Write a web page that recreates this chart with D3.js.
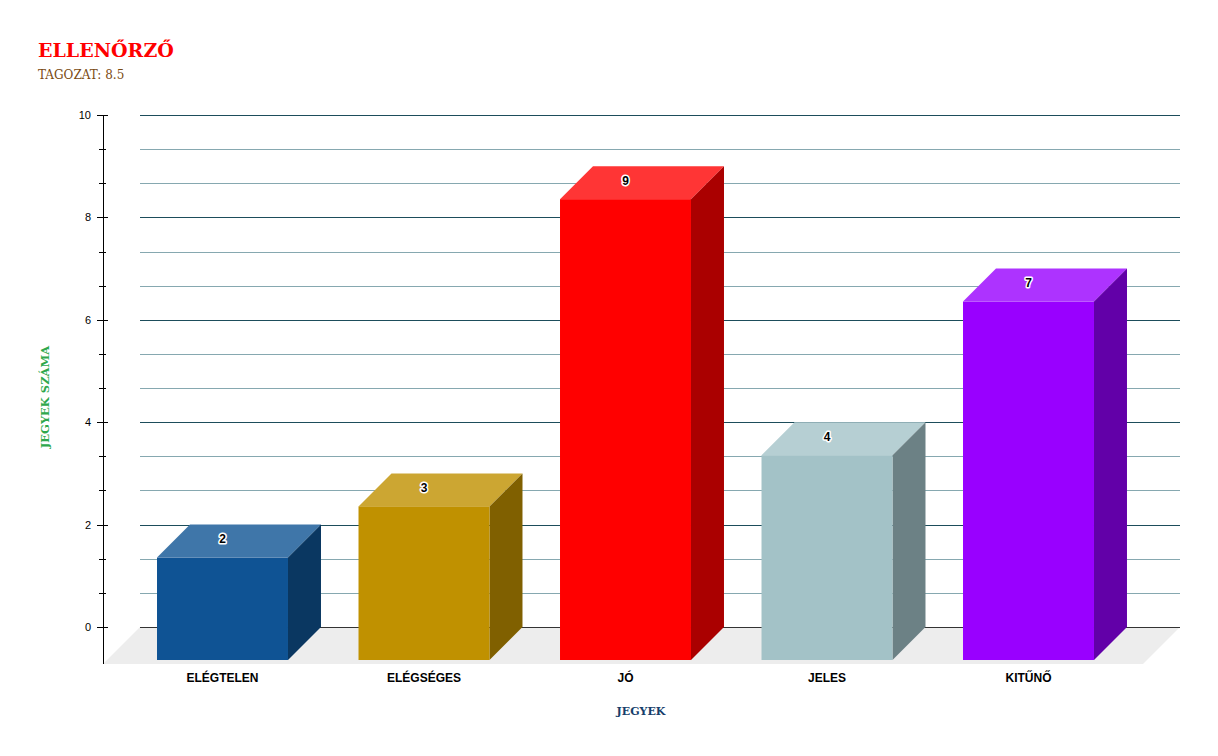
<!DOCTYPE html>
<html>
<head>
<meta charset="utf-8">
<script src="https://cdn.jsdelivr.net/npm/d3@7.9.0/dist/d3.min.js"></script>
<style>
  body { margin: 0; background: #fff; }
  svg { display: block; }
</style>
</head>
<body>
<svg id="chart" width="1218" height="756"></svg>
<script>
// chart data
const categories = ['ELÉGTELEN', 'ELÉGSÉGES', 'JÓ', 'JELES', 'KITŰNŐ'];
const counts = [2, 3, 9, 4, 7];
const frontColors = ['#0f5394', '#c09100', '#ff0000', '#a3c2c7', '#9900ff'];
const topColors = ['#3f76a9', '#cca632', '#ff3535', '#b6cfd3', '#ad33ff'];
const sideColors = ['#0a3761', '#806000', '#aa0000', '#6c8185', '#6200a8'];
const yTicks = [0, 2, 4, 6, 8, 10];

const svg = d3.select('#chart');
const depth = 33;      // 3d offset of bars
const floorDepth = 37; // 3d offset of floor

const y = d3.scaleLinear().domain([0, 10]).range([627, 115]);
const x = d3.scaleBand()
    .domain(categories)
    .range([121.75, 1129.25])
    .paddingInner(0.35)
    .paddingOuter(0.175);

// Titles
svg.append('text')
    .attr('x', 38).attr('y', 57)
    .attr('font-family', 'DejaVu Serif, serif')
    .attr('font-weight', 'bold')
    .attr('font-size', 19)
    .attr('fill', '#ff0000')
    .text('ELLENŐRZŐ');

svg.append('text')
    .attr('x', 38).attr('y', 79)
    .attr('font-family', 'DejaVu Serif, serif')
    .attr('font-size', 12)
    .attr('fill', '#7a4a12')
    .text('TAGOZAT: 8.5');

// Floor
const x0 = 140, x1 = 1180;
svg.append('path')
    .attr('d', `M${x0},${y(0)} L${x1},${y(0)} L${x1 - floorDepth},${y(0) + floorDepth} L${x0 - floorDepth},${y(0) + floorDepth} Z`)
    .attr('fill', '#ededed');

// Gridlines (every 2/3)
const gridVals = d3.range(0, 15.5).map(i => i * 10 / 15);
svg.append('g').selectAll('line')
    .data(gridVals)
    .join('line')
    .attr('x1', x0).attr('x2', x1)
    .attr('y1', d => Math.round(y(d)) + 0.5)
    .attr('y2', d => Math.round(y(d)) + 0.5)
    .attr('stroke', (d, i) => i === 0 ? '#333' : (i % 3 === 0 ? '#1d4d5b' : '#86a8b0'))
    .attr('stroke-width', 1);

// Y axis
const axisX = 103;
svg.append('line')
    .attr('x1', axisX + 0.5).attr('x2', axisX + 0.5)
    .attr('y1', y(10)).attr('y2', y(0) + floorDepth)
    .attr('stroke', '#000');

svg.append('g').selectAll('line')
    .data(gridVals)
    .join('line')
    .attr('x1', (d, i) => i % 3 === 0 ? axisX - 6 : axisX - 4)
    .attr('x2', (d, i) => i % 3 === 0 ? axisX + 5 : axisX + 3)
    .attr('y1', d => Math.round(y(d)) + 0.5)
    .attr('y2', d => Math.round(y(d)) + 0.5)
    .attr('stroke', '#000');

svg.append('g').selectAll('text')
    .data(yTicks)
    .join('text')
    .attr('x', 91)
    .attr('y', d => y(d) + 4)
    .attr('text-anchor', 'end')
    .attr('font-family', 'Liberation Sans, Arial')
    .attr('font-size', 11)
    .attr('fill', '#000')
    .text(d => d);

// Bars
const bars = svg.append('g').selectAll('g')
    .data(categories.map((c, i) => ({ cat: c, value: counts[i], i })))
    .join('g');

bars.append('path') // top face
    .attr('d', d => {
        const l = x(d.cat), r = l + x.bandwidth(), t = y(d.value) + depth;
        return `M${l},${t} L${l + depth},${t - depth} L${r + depth},${t - depth} L${r},${t} Z`;
    })
    .attr('fill', d => topColors[d.i]);

bars.append('path') // side face
    .attr('d', d => {
        const r = x(d.cat) + x.bandwidth(), t = y(d.value) + depth, b = y(0) + depth;
        return `M${r},${t} L${r + depth},${t - depth} L${r + depth},${b - depth} L${r},${b} Z`;
    })
    .attr('fill', d => sideColors[d.i]);

bars.append('rect') // front face
    .attr('x', d => x(d.cat))
    .attr('y', d => y(d.value) + depth)
    .attr('width', x.bandwidth())
    .attr('height', d => y(0) - y(d.value))
    .attr('fill', d => frontColors[d.i]);

bars.append('text')
    .attr('x', d => x(d.cat) + x.bandwidth() / 2)
    .attr('y', d => y(d.value) + depth / 2 + 2)
    .attr('text-anchor', 'middle')
    .attr('font-family', 'Liberation Sans, Arial')
    .attr('font-weight', 'bold')
    .attr('font-size', 12)
    .attr('fill', '#000')
    .attr('stroke', '#fff')
    .attr('stroke-width', 3)
    .attr('stroke-linejoin', 'round')
    .attr('paint-order', 'stroke')
    .text(d => d.value);

// Category labels
svg.append('g').selectAll('text')
    .data(categories)
    .join('text')
    .attr('x', d => x(d) + x.bandwidth() / 2)
    .attr('y', 682)
    .attr('text-anchor', 'middle')
    .attr('font-family', 'Liberation Sans, Arial')
    .attr('font-weight', 'bold')
    .attr('font-size', 12)
    .attr('fill', '#000')
    .text(d => d);

// Axis titles
svg.append('text')
    .attr('x', 641).attr('y', 715)
    .attr('text-anchor', 'middle')
    .attr('font-family', 'DejaVu Serif, serif')
    .attr('font-weight', 'bold')
    .attr('font-size', 11)
    .attr('fill', '#173f6b')
    .text('JEGYEK');

svg.append('text')
    .attr('transform', 'translate(49,397) rotate(-90)')
    .attr('text-anchor', 'middle')
    .attr('font-family', 'DejaVu Serif, serif')
    .attr('font-weight', 'bold')
    .attr('font-size', 11.5)
    .attr('fill', '#2ea84c')
    .text('JEGYEK SZÁMA');
</script>
</body>
</html>
